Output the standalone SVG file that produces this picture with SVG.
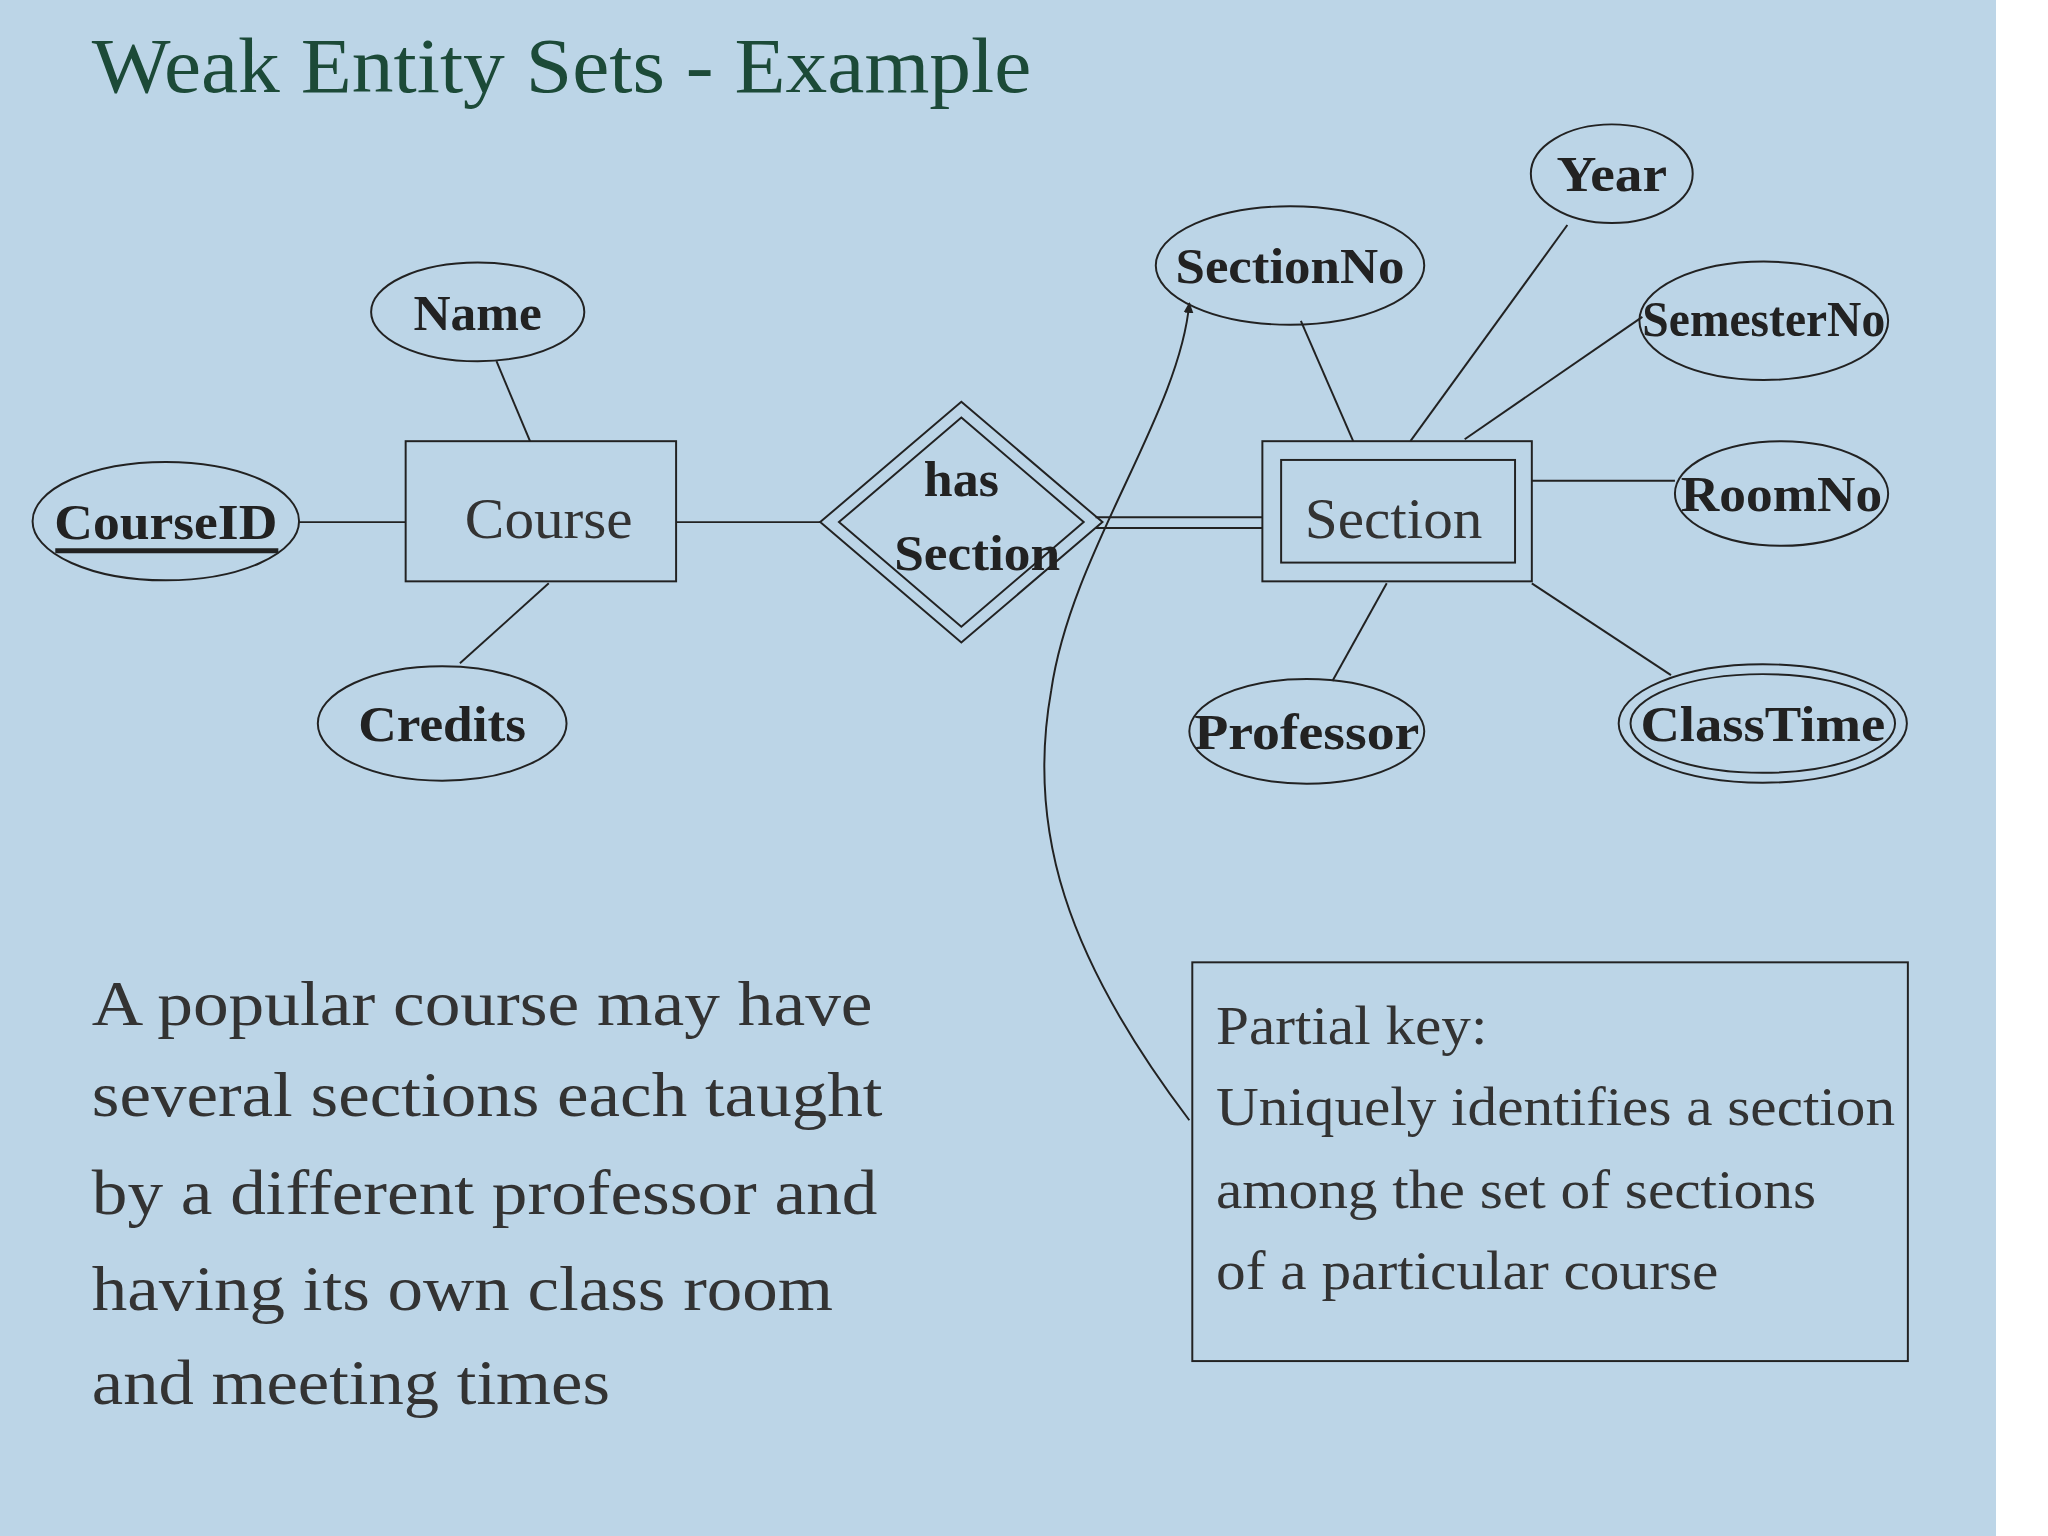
<svg xmlns="http://www.w3.org/2000/svg" width="2048" height="1536" viewBox="0 0 2048 1536">
<style>
.s{fill:none;stroke:#222;stroke-width:2}
.b{font-family:"Liberation Serif",serif;font-weight:bold;font-size:52px;fill:#222;text-anchor:middle}
.r{font-family:"Liberation Serif",serif;font-size:58px;fill:#333;text-anchor:middle}
.p{font-family:"Liberation Serif",serif;font-size:64px;fill:#333}
.k{font-family:"Liberation Serif",serif;font-size:56px;fill:#333}
</style>
<defs><marker id="ah" markerWidth="12" markerHeight="12" refX="10" refY="6" orient="auto" markerUnits="userSpaceOnUse"><path d="M0,1 L11,6 L0,11 Z" fill="#222"/></marker></defs>
<rect width="2048" height="1536" fill="#fff"/>
<rect width="1996" height="1536" fill="#bcd5e7"/>
<g transform="scale(0.987 0.987)">
<text x="93" y="93" font-family="Liberation Serif,serif" font-size="80" fill="#1c4a38" textLength="952" lengthAdjust="spacingAndGlyphs">Weak Entity Sets - Example</text>
<g id="connectors" class="s">
<line x1="503" y1="366" x2="537" y2="447"/>
<line x1="302" y1="529" x2="411" y2="529"/>
<line x1="556" y1="591" x2="466" y2="672"/>
<line x1="685" y1="529" x2="831" y2="529"/>
<line x1="1110" y1="524" x2="1279" y2="524"/>
<line x1="1110" y1="535" x2="1279" y2="535"/>
<line x1="1318" y1="325" x2="1371" y2="447"/>
<line x1="1588" y1="228" x2="1429" y2="447"/>
<line x1="1664" y1="321" x2="1484" y2="445"/>
<line x1="1552" y1="487" x2="1697" y2="487"/>
<line x1="1552" y1="591" x2="1693" y2="684"/>
<line x1="1405" y1="591" x2="1350" y2="690"/>
<path d="M1205 1135 C1080 970 1040 840 1065 700 C1085 560 1195 420 1205 307" marker-end="url(#ah)"/>
</g>
<g id="Name"><ellipse class="s" cx="484" cy="316" rx="108" ry="50"/><text class="b" x="484" y="334" textLength="130" lengthAdjust="spacingAndGlyphs">Name</text></g>
<g id="CourseID"><ellipse class="s" cx="168" cy="528" rx="135" ry="60"/><text class="b" x="168" y="546" textLength="226" lengthAdjust="spacingAndGlyphs">CourseID</text><line x1="56" y1="558" x2="282" y2="558" stroke="#222" stroke-width="5"/></g>
<g id="Course"><rect class="s" x="411" y="447" width="274" height="142"/><text class="r" x="556" y="545" textLength="170" lengthAdjust="spacingAndGlyphs">Course</text></g>
<g id="Credits"><ellipse class="s" cx="448" cy="733" rx="126" ry="58"/><text class="b" x="448" y="751" textLength="170" lengthAdjust="spacingAndGlyphs">Credits</text></g>
<g id="hasSection"><path class="s" d="M974 407 L1117 529 L974 651 L831 529 Z"/><path class="s" d="M974 423 L1098 529 L974 635 L850 529 Z"/><text class="b" x="974" y="503" textLength="76" lengthAdjust="spacingAndGlyphs">has</text><text class="b" x="990" y="578" textLength="168" lengthAdjust="spacingAndGlyphs">Section</text></g>
<g id="Section"><rect class="s" x="1279" y="447" width="273" height="142"/><rect class="s" x="1298" y="466" width="237" height="104"/><text class="r" x="1412" y="545" textLength="180" lengthAdjust="spacingAndGlyphs">Section</text></g>
<g id="SectionNo"><ellipse class="s" cx="1307" cy="269" rx="136" ry="60"/><text class="b" x="1307" y="287" textLength="232" lengthAdjust="spacingAndGlyphs">SectionNo</text></g>
<g id="Year"><ellipse class="s" cx="1633" cy="176" rx="82" ry="50"/><text class="b" x="1633" y="194" textLength="112" lengthAdjust="spacingAndGlyphs">Year</text></g>
<g id="SemesterNo"><ellipse class="s" cx="1787" cy="325" rx="126" ry="60"/><text class="b" x="1787" y="340" font-size="44" textLength="246" lengthAdjust="spacingAndGlyphs">SemesterNo</text></g>
<g id="RoomNo"><ellipse class="s" cx="1805" cy="500" rx="108" ry="53"/><text class="b" x="1805" y="518" textLength="204" lengthAdjust="spacingAndGlyphs">RoomNo</text></g>
<g id="ClassTime"><ellipse class="s" cx="1786" cy="733" rx="146" ry="60"/><ellipse class="s" cx="1786" cy="733" rx="134" ry="50"/><text class="b" x="1786" y="751" textLength="248" lengthAdjust="spacingAndGlyphs">ClassTime</text></g>
<g id="Professor"><ellipse class="s" cx="1324" cy="741" rx="119" ry="53"/><text class="b" x="1324" y="759" textLength="228" lengthAdjust="spacingAndGlyphs">Professor</text></g>
<g id="desc">
<text class="p" x="93" y="1038" textLength="791" lengthAdjust="spacingAndGlyphs">A popular course may have</text>
<text class="p" x="93" y="1131" textLength="801" lengthAdjust="spacingAndGlyphs">several sections each taught</text>
<text class="p" x="93" y="1230" textLength="796" lengthAdjust="spacingAndGlyphs">by a different professor and</text>
<text class="p" x="93" y="1327" textLength="751" lengthAdjust="spacingAndGlyphs">having its own class room</text>
<text class="p" x="93" y="1422" textLength="525" lengthAdjust="spacingAndGlyphs">and meeting times</text>
</g>
<g id="note"><rect class="s" x="1208" y="975" width="725" height="404"/>
<text class="k" x="1232" y="1058" textLength="275" lengthAdjust="spacingAndGlyphs">Partial key:</text>
<text class="k" x="1232" y="1140" textLength="688" lengthAdjust="spacingAndGlyphs">Uniquely identifies a section</text>
<text class="k" x="1232" y="1224" textLength="608" lengthAdjust="spacingAndGlyphs">among the set of sections</text>
<text class="k" x="1232" y="1306" textLength="509" lengthAdjust="spacingAndGlyphs">of a particular course</text>
</g>
</g>
</svg>
